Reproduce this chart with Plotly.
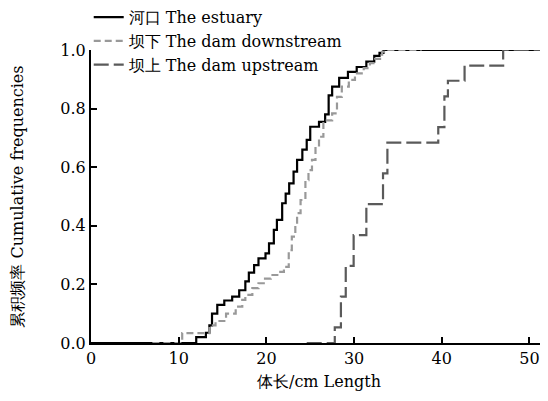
import plotly.graph_objects as go

# Estuary (河口) cumulative frequencies — step positions (cm) and values
estuary_len = [0, 12.0, 13.1, 13.5, 13.8, 14.4, 15.2, 16.1, 16.9, 17.6,
               18.0, 18.6, 19.1, 19.9, 20.3, 20.85, 21.2, 21.8, 22.2, 22.6,
               23.1, 23.5, 24.1, 24.6, 25.0, 26.0, 26.7, 27.1, 27.5, 28.3,
               29.3, 30.3, 31.4, 32.3, 32.9, 33.35, 52]
estuary_cf = [0, 0.02, 0.035, 0.06, 0.10, 0.13, 0.145, 0.158, 0.18, 0.21,
              0.24, 0.266, 0.289, 0.306, 0.34, 0.386, 0.42, 0.477, 0.51, 0.545,
              0.585, 0.625, 0.66, 0.693, 0.738, 0.755, 0.78, 0.845, 0.875, 0.905,
              0.925, 0.942, 0.96, 0.98, 0.99, 1.0, 1.0]

# Dam downstream (坝下)
down_len = [7.0, 10.4, 13.5, 14.2, 15.4, 16.5, 17.25, 17.6, 18.4, 19.1,
            19.7, 20.5, 21.4, 22.0, 22.55, 22.9, 23.3, 23.5, 23.9, 24.45,
            24.8, 25.2, 25.6, 26.0, 26.5, 27.5, 28.05, 28.6, 29.4, 30.1,
            31.1, 31.8, 32.4, 33.2, 33.7, 37.7]
down_cf = [0, 0.034, 0.06, 0.075, 0.10, 0.124, 0.147, 0.164, 0.187, 0.204,
           0.22, 0.232, 0.243, 0.26, 0.317, 0.363, 0.40, 0.443, 0.488, 0.556,
           0.59, 0.625, 0.67, 0.704, 0.76, 0.784, 0.84, 0.875, 0.898, 0.92,
           0.938, 0.955, 0.97, 0.994, 1.0, 1.0]

# Dam upstream (坝上)
up_len = [24.6, 27.8, 28.5, 29.05, 29.95, 31.4, 33.3, 33.8, 39.6, 40.3,
          40.7, 42.6, 47.0, 52]
up_cf = [0, 0.053, 0.158, 0.263, 0.368, 0.474, 0.579, 0.684, 0.737, 0.842,
         0.895, 0.947, 1.0, 1.0]

x_ticks = [0, 10, 20, 30, 40, 50]
y_ticks = [0.0, 0.2, 0.4, 0.6, 0.8, 1.0]

FONT = "DejaVu Serif, serif"

fig = go.Figure()
fig.add_trace(go.Scatter(x=estuary_len, y=estuary_cf, mode="lines", line_shape="hv",
                         name="河口 The estuary", cliponaxis=False,
                         line=dict(color="#000000", width=2.2)))
fig.add_trace(go.Scatter(x=down_len, y=down_cf, mode="lines", line_shape="hv",
                         name="坝下 The dam downstream", cliponaxis=False,
                         line=dict(color="#999999", width=2.2, dash="7px,4px")))
fig.add_trace(go.Scatter(x=up_len, y=up_cf, mode="lines", line_shape="hv",
                         name="坝上 The dam upstream", cliponaxis=False,
                         line=dict(color="#5a5a5a", width=2.2, dash="15px,5px")))

fig.update_layout(
    width=540, height=393,
    margin=dict(l=83, r=1, t=42, b=58, autoexpand=False),
    paper_bgcolor="white", plot_bgcolor="white",
    font=dict(family=FONT, size=16, color="#000000"),
    showlegend=True,
    legend=dict(x=-0.005, y=1.17, xanchor="left", yanchor="top",
                bgcolor="rgba(0,0,0,0)",
                font=dict(family=FONT, size=16, color="#000000"), tracegroupgap=0,
                itemwidth=30),
    xaxis=dict(range=[0, 52], tickvals=x_ticks, ticktext=[str(v) for v in x_ticks],
               ticks="inside", ticklen=6, tickwidth=2, tickcolor="#000",
               showline=True, linecolor="#000", linewidth=2, showgrid=False,
               zeroline=False, tickfont=dict(size=16, color="#000000"),
               title=dict(text="体长/cm Length", font=dict(size=16, color="#000000"),
                          standoff=9)),
    yaxis=dict(range=[0, 1.0], tickvals=y_ticks, ticktext=[f"{v:.1f}" for v in y_ticks],
               ticks="inside", ticklen=6, tickwidth=2, tickcolor="#000",
               showline=True, linecolor="#000", linewidth=2, showgrid=False,
               zeroline=False, tickfont=dict(size=16, color="#000000"),
               title=dict(text="累积频率 Cumulative frequencies",
                          font=dict(size=16, color="#000000"), standoff=33)),
)

fig.write_html("out.html")
